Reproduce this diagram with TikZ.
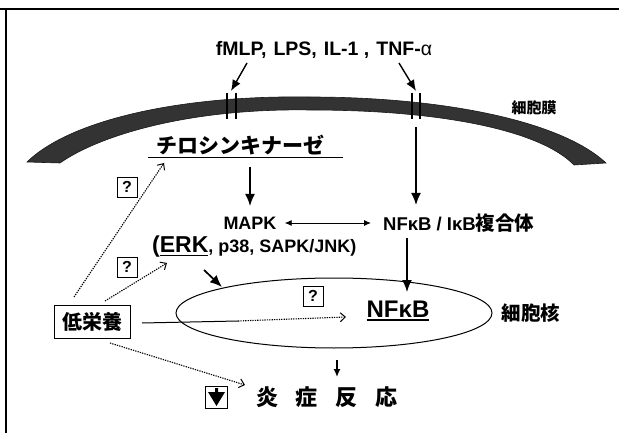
\documentclass[tikz,border=0pt]{standalone}
\usepackage{fontspec}
\setmainfont{Liberation Sans}
\newfontfamily\jp{Noto Sans CJK JP}
\usetikzlibrary{arrows.meta,shapes.geometric}
\newcommand\fsz[1]{\fontsize{#1}{#1}\selectfont}
\newcommand\uln[1]{\setbox0\hbox{#1}\rlap{\rule[-3pt]{\wd0}{1.3pt}}\box0}
\begin{document}
\begin{tikzpicture}[x=1pt,y=-1pt,
  lbl/.style={inner sep=0pt,font=\bfseries},
  sarrow/.style={line width=1.7pt,-{Latex[length=12pt,width=10pt]}},
  tarrow/.style={line width=1.4pt,-{Latex[length=11pt,width=9pt]}},
  darrow/.style={line width=1.1pt,dash pattern=on 1.3pt off 1.1pt,-{Straight Barb[length=5pt,width=9pt,line width=1pt]}},
  qbox/.style={draw,line width=0.9pt,minimum width=20pt,minimum height=20pt,inner sep=0pt,font=\bfseries\fsz{16}},
  recep/.style={line width=1.8pt},
  membrane/.style={fill=black!80,draw=black!90,line width=0.6pt}]
\useasboundingbox (0,0) rectangle (619,433);
% frame
\draw[line width=1.5pt] (0,9) -- (619,9);
\draw[line width=2pt] (6,9) -- (6,433);
% membrane
\path[membrane] (27,162) .. controls (70,120) and (180,95) .. (310,97)
  .. controls (440,97) and (560,120) .. (606,163)
  -- (574,165) .. controls (540,130) and (440,110) .. (310,110)
  .. controls (190,108) and (100,135) .. (60,163) -- cycle;
% receptors
\draw[recep] (227,93) -- (227,119) (236,93) -- (236,119);
\draw[recep] (412,93) -- (412,119) (420,93) -- (420,119);
\coordinate (r1) at (231,91);
\coordinate (r2) at (416,91);
\coordinate (r2b) at (416,127);
% stimuli
\node[lbl,font=\bfseries\fsz{19.5}] (stim) at (324,50) {fMLP,\hspace{7pt}LPS,\hspace{7pt}IL-1 ,\hspace{7pt}TNF-{\mdseries α}};
\coordinate (s1) at (247,63);
\coordinate (s2) at (399,63);
\draw[tarrow] (s1) -- (r1);
\draw[tarrow] (s2) -- (r2);
\node[lbl,font=\jp\bfseries\fsz{15}] (memb) at (534,108) {細胞膜};
% tyrosine kinase
\node[lbl,font=\jp\bfseries\fsz{21}] (tk) at (240,145) {チロシンキナーゼ};
\coordinate (ulA) at (148,158);
\coordinate (ulB) at (343,158);
\draw[line width=1pt] (ulA) -- (ulB);
\coordinate (tkb) at (250,167);
\coordinate (mapkt) at (250,206);
\node[lbl,font=\bfseries\fsz{18}] (mapk) at (250,223) {MAPK};
\node[lbl,font=\bfseries\fsz{18.5},anchor=west] (nfib) at (383,223) {NFκB / IκB{\jp\fsz{19.5}複合体}};
\coordinate (nfibt) at (416,205);
\draw[sarrow] (tkb) -- (mapkt);
\draw[sarrow] (r2b) -- (nfibt);
\draw[line width=0.9pt,{Latex[length=7pt,width=6pt]}-{Latex[length=7pt,width=6pt]}] ([xshift=8pt]mapk.east) -- ([xshift=-12pt]nfib.west);
\node[lbl,anchor=west] (erk) at (152,247) {\fsz{23}(\uln{ERK}\fsz{18}, p38, SAPK/JNK)};
% nucleus
\node[draw,ellipse,line width=1pt,minimum width=316pt,minimum height=70pt,inner sep=0pt] (nuc) at (334,313) {};
\coordinate (erkA) at (204,270);
\coordinate (erkB) at (222,287);
\draw[sarrow] (erkA) -- (erkB);
\coordinate (nfdA) at (407,238);
\coordinate (nfdB) at (407,292);
\draw[sarrow] (nfdA) -- (nfdB);
\node[lbl,font=\bfseries\fsz{24}] (nfk) at (398,311) {\uln{NFκB}};
\node[lbl,font=\jp\bfseries\fsz{19.5}] (nucl) at (531,313) {細胞核};
% low nutrition
\node[draw,line width=1pt,minimum width=76pt,minimum height=33pt,inner sep=0pt,font=\jp\bfseries\fsz{20}] (low) at (92,322) {低栄養};
\coordinate (hA) at (142,323);
\coordinate (hB) at (238,321);
\coordinate (hC) at (346,317);
\draw[line width=1pt] (hA) -- (hB);
\draw[darrow] (hB) -- (hC);
\node[qbox] (q1) at (127,187) {?};
\node[qbox] (q2) at (127,267) {?};
\node[qbox] (q3) at (313,296) {?};
\coordinate (d1a) at (74,297);
\coordinate (d1b) at (164,163);
\coordinate (d2a) at (105,301);
\coordinate (d2b) at (167,263);
\coordinate (d3a) at (110,343);
\coordinate (d3b) at (245,385);
\draw[darrow] (d1a) -- (d1b);
\draw[darrow] (d2a) -- (d2b);
\draw[darrow] (d3a) -- (d3b);
% inflammation
\coordinate (smA) at (337,360);
\coordinate (smB) at (337,377);
\draw[line width=1.5pt,-{Latex[length=8pt,width=7pt]}] (smA) -- (smB);
\node[lbl,font=\jp\bfseries\fsz{22}] (inf) at (327,397) {炎\hspace{18pt}症\hspace{18pt}反\hspace{18pt}応};
\node[draw,line width=1pt,minimum size=22pt,inner sep=0pt] (dn) at (216.5,397) {};
\fill (215,388) -- (218,388) -- (218,392) -- (225,392) -- (216.5,406) -- (208,392) -- (215,392) -- cycle;
\end{tikzpicture}
\end{document}
